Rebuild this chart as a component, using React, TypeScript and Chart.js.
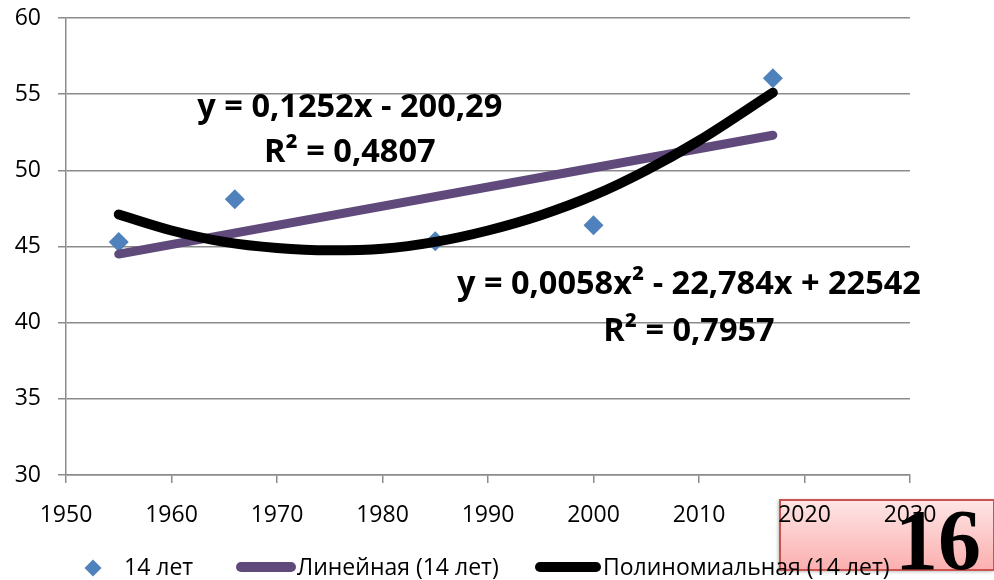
import { useEffect, useRef } from "react";
import { Chart, registerables } from "chart.js";

Chart.register(...registerables);

// Observed values (age 14 series)
const pointYears = [1955, 1966, 1985, 2000, 2017];
const pointValues = [45.3, 48.1, 45.35, 46.4, 56.05];

// Linear trend line end points
const linearYears = [1955, 2017];
const linearValues = [44.5, 52.3];

// Polynomial trend curve, read along its path
const polyYears = [1955, 1960, 1965, 1970, 1975, 1980, 1985, 1990, 1995, 2000, 2005, 2010, 2017];
const polyValues = [47.1, 46.05, 45.3, 44.9, 44.75, 44.85, 45.3, 46.05, 47.05, 48.35, 50.0, 51.95, 55.1];

const seriesLabels = ["14 лет", "Линейная (14 лет)", "Полиномиальная (14 лет)"];
const linearEquation = ["y = 0,1252x - 200,29", "R² = 0,4807"];
const polyEquation = ["y = 0,0058x² - 22,784x + 22542", "R² = 0,7957"];
const slideNumber = "16";

const xRange = [1950, 2030, 10];
const yRange = [30, 60, 5];

const GRID = "#8b8b8b";
const TICK_FONT = '"Open Sans", "DejaVu Sans", sans-serif';
const BLUE = "#4f81bd";
const PURPLE = "#5f4a7b";
const BLACK = "#000000";

function fitSize(ctx: CanvasRenderingContext2D, text: string, width: number, weight: string, family: string) {
  ctx.font = `${weight} 100px ${family}`;
  return (100 * width) / ctx.measureText(text).width;
}

const decorations = {
  id: "decorations",
  beforeDraw(chart: any) {
    const ctx: CanvasRenderingContext2D = chart.ctx;
    ctx.save();
    // slide number plate
    const x = 779, y = 499, w = 215, h = 72;
    ctx.shadowColor = "rgba(0,0,0,0.25)";
    ctx.shadowBlur = 3;
    ctx.shadowOffsetX = -1;
    ctx.shadowOffsetY = 1;
    const g = ctx.createLinearGradient(0, y, 0, y + h);
    g.addColorStop(0, "#fee6e6");
    g.addColorStop(1, "#fbaeae");
    ctx.fillStyle = g;
    ctx.fillRect(x, y, w, h);
    ctx.shadowColor = "transparent";
    ctx.strokeStyle = "#c9534f";
    ctx.lineWidth = 2;
    ctx.strokeRect(x + 1, y + 1, w - 1, h - 2);
    ctx.restore();
  },
  afterDraw(chart: any) {
    const ctx: CanvasRenderingContext2D = chart.ctx;
    const xs = chart.scales.x;
    const ys = chart.scales.y;
    const ds = chart.data.datasets;
    ctx.save();

    // legend
    const ly = 568;
    ctx.font = `23px ${TICK_FONT}`;
    ctx.textBaseline = "middle";
    ctx.textAlign = "left";
    ctx.fillStyle = BLUE;
    ctx.beginPath();
    ctx.moveTo(93 - 8.5, ly);
    ctx.lineTo(93, ly - 8.5);
    ctx.lineTo(93 + 8.5, ly);
    ctx.lineTo(93, ly + 8.5);
    ctx.closePath();
    ctx.fill();
    ctx.fillStyle = "#000";
    ctx.fillText(ds[0].label, 124, ly);

    ctx.lineCap = "round";
    ctx.lineWidth = 10;
    ctx.strokeStyle = ds[1].borderColor;
    ctx.beginPath();
    ctx.moveTo(241, ly - 1);
    ctx.lineTo(291, ly - 1);
    ctx.stroke();
    ctx.fillText(ds[1].label, 297, ly);

    ctx.strokeStyle = ds[2].borderColor;
    ctx.beginPath();
    ctx.moveTo(540, ly - 1);
    ctx.lineTo(596, ly - 1);
    ctx.stroke();
    ctx.fillText(ds[2].label, 603, ly);

    // trend line equations
    const fam = '"Open Sans", "DejaVu Sans", sans-serif';
    ctx.fillStyle = "#000";
    ctx.textAlign = "center";
    ctx.textBaseline = "alphabetic";
    const s1 = fitSize(ctx, linearEquation[0], 305, "bold", fam);
    ctx.font = `bold ${s1}px ${fam}`;
    const cx1 = xs.getPixelForValue(1976.9);
    ctx.fillText(linearEquation[0], cx1, ys.getPixelForValue(53.48));
    ctx.fillText(linearEquation[1], cx1, ys.getPixelForValue(50.52));

    const s2 = fitSize(ctx, polyEquation[0], 464, "bold", fam);
    ctx.font = `bold ${s2}px ${fam}`;
    const cx2 = xs.getPixelForValue(2009.05);
    ctx.fillText(polyEquation[0], cx2, ys.getPixelForValue(41.87));
    ctx.fillText(polyEquation[1], cx2, ys.getPixelForValue(38.82));

    // slide number
    ctx.font = 'bold 86px "Liberation Serif", "Times New Roman", serif';
    ctx.textAlign = "left";
    ctx.fillText(slideNumber, 895, 569);
    ctx.restore();
  },
};

export default function App() {
  const canvasRef = useRef<HTMLCanvasElement | null>(null);

  useEffect(() => {
    let chart: Chart | null = null;
    let cancelled = false;
    const build = () => {
      if (cancelled || !canvasRef.current) return;
      chart = new Chart(canvasRef.current, {
        type: "scatter",
        data: {
          datasets: [
            {
              label: seriesLabels[0],
              data: pointYears.map((x, i) => ({ x, y: pointValues[i] })),
              pointStyle: "rectRot",
              pointRadius: 10,
              pointHoverRadius: 10,
              pointBorderWidth: 0,
              backgroundColor: BLUE,
              borderColor: BLUE,
              showLine: false,
              order: 3,
            },
            {
              label: seriesLabels[1],
              data: linearYears.map((x, i) => ({ x, y: linearValues[i] })),
              showLine: true,
              pointRadius: 0,
              borderColor: PURPLE,
              borderWidth: 9,
              borderCapStyle: "round",
              order: 2,
            },
            {
              label: seriesLabels[2],
              data: polyYears.map((x, i) => ({ x, y: polyValues[i] })),
              showLine: true,
              pointRadius: 0,
              borderColor: BLACK,
              borderWidth: 10,
              borderCapStyle: "round",
              cubicInterpolationMode: "monotone",
              order: 1,
            },
          ],
        } as any,
        options: {
          responsive: false,
          animation: false,
          events: [],
          layout: { padding: { top: 18, right: 84, left: 0, bottom: 0 } },
          plugins: { legend: { display: false }, tooltip: { enabled: false } },
          scales: {
            x: {
              type: "linear",
              min: xRange[0],
              max: xRange[1],
              afterFit: (s: any) => {
                s.height = 105;
                s.paddingLeft = 0;
                s.paddingRight = 0;
              },
              ticks: {
                stepSize: xRange[2],
                color: "#000",
                font: { family: TICK_FONT, size: 23 },
                padding: 19,
                maxRotation: 0,
                callback: (v: any) => String(v),
              },
              grid: { drawOnChartArea: false, drawTicks: true, tickLength: 8, color: GRID, lineWidth: 1.5 },
              border: { color: GRID, width: 1.5 },
            },
            y: {
              type: "linear",
              min: yRange[0],
              max: yRange[1],
              afterFit: (s: any) => {
                s.width = 66;
                s.paddingTop = 0;
                s.paddingBottom = 0;
              },
              ticks: {
                stepSize: yRange[2],
                color: "#000",
                font: { family: TICK_FONT, size: 23 },
                padding: 17,
              },
              grid: { drawTicks: true, tickLength: 8, color: GRID, lineWidth: 1.5 },
              border: { color: GRID, width: 1.5 },
            },
          },
        } as any,
        plugins: [decorations],
      });
    };
    const fonts = (document as any).fonts;
    if (fonts && fonts.load) {
      Promise.all([
        fonts.load('23px "Open Sans"'),
        fonts.load('bold 30px "Open Sans"'),
        fonts.load('bold 86px "Liberation Serif"'),
      ]).then(build, build);
    } else {
      build();
    }
    return () => {
      cancelled = true;
      if (chart) chart.destroy();
    };
  }, []);

  return (
    <div style={{ position: "absolute", left: 0, top: 0, width: 994, height: 580, background: "#fff" }}>
      <canvas ref={canvasRef} width={994} height={580} style={{ display: "block" }} />
    </div>
  );
}
